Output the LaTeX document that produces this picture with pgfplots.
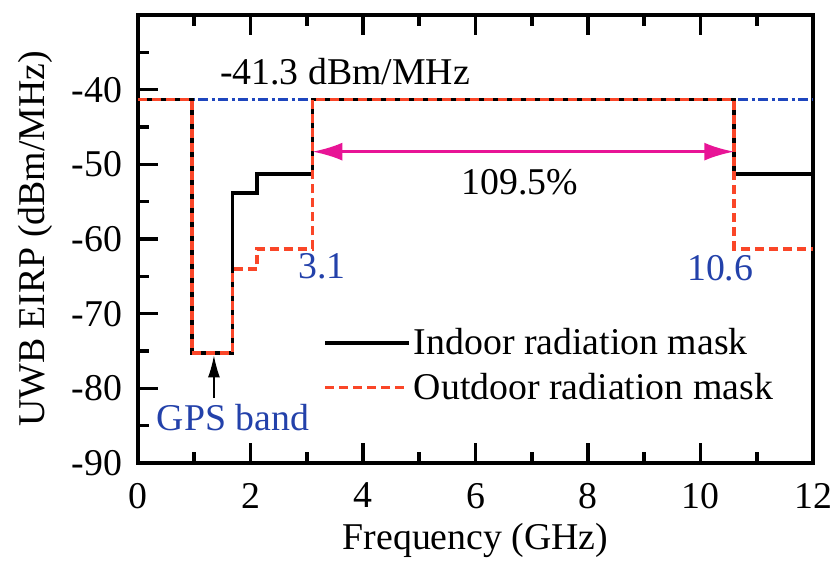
\documentclass[border=0pt]{standalone}
\usepackage{fontspec}
\setmainfont{Liberation Serif}
\usepackage{pgfplots}
\pgfplotsset{compat=1.18}
\usetikzlibrary{arrows.meta}
\definecolor{maskred}{RGB}{250,70,40}
\definecolor{limblue}{RGB}{30,70,190}
\definecolor{arrmag}{RGB}{232,20,150}
\definecolor{txtblue}{RGB}{35,65,170}

\begin{document}
\begin{tikzpicture}[font=\fontsize{18.9}{22}\selectfont]
\begin{axis}[
  at={(0,0)}, anchor=south west,
  scale only axis, width=337.5pt, height=224pt,
  xmin=0, xmax=12, ymin=-90, ymax=-30,
  xtick={0,2,...,12}, ytick={-90,-80,...,-40},
  minor xtick={1,3,...,11}, minor ytick={-85,-75,...,-35},
  tick align=inside, xtick pos=both, xticklabel pos=bottom, ytick pos=left,
  major tick length=10pt, minor tick length=5.5pt,
  every tick/.style={black, line width=1.8pt},
  axis line style={line width=1.8pt},
  /pgf/number format/assume math mode=true,
  xticklabel style={yshift=-6.5pt},
  yticklabel style={xshift=-4.5pt},
  xlabel={Frequency (GHz)}, ylabel={UWB EIRP (dBm/MHz)},
  xlabel style={at={(axis description cs:0.5,-0.172)}, anchor=center},
  ylabel style={at={(axis description cs:-0.1526,0.5)}, anchor=center},
  legend image code/.code={\draw[#1] (0pt,0pt) -- (42pt,0pt);},
  legend cell align=left,
  legend style={draw=none, fill=none, at={(0.265,0.218)}, anchor=west,
    row sep=4.5pt, nodes={inner sep=1.5pt}},
]
\addplot[const plot, limblue, line width=1.8pt, dash pattern=on 5pt off 1.75pt on 1.5pt off 1.75pt, forget plot]
  coordinates {(0,-41.3) (12,-41.3)};
\addplot[const plot, black, line width=1.8pt]
  coordinates {(0,-41.3) (0.96,-75.3) (1.68,-53.8) (2.12,-51.3) (3.1,-41.3) (10.6,-51.3) (12,-51.3)};
\addlegendentry{Indoor radiation mask}
\addplot[const plot, maskred, line width=1.8pt, dash pattern=on 4.5pt off 2.5pt]
  coordinates {(0,-41.3) (0.96,-75.3) (1.68,-64.0) (2.12,-61.3) (3.1,-41.3) (10.6,-61.3) (12,-61.3)};
\addlegendentry{Outdoor radiation mask}
\draw[arrmag, line width=1.4pt, {Latex[length=15pt,width=9pt]}-{Latex[length=15pt,width=9pt]}]
  (axis cs:3.1,-48.3) -- (axis cs:10.6,-48.3);
\draw[black, line width=0.6pt, -{Latex[length=11pt,width=6pt]}]
  (axis cs:1.35,-81.3) -- (axis cs:1.35,-75.6);
\node at (axis cs:3.68,-37.6) {-41.3 dBm/MHz};
\node at (axis cs:6.79,-52.4) {109.5\%};
\node[txtblue] at (axis cs:3.27,-63.7) {3.1};
\node[txtblue] at (axis cs:10.35,-63.9) {10.6};
\node[txtblue] at (axis cs:1.69,-83.9) {GPS band};
\end{axis}
\pgfresetboundingbox
\path[use as bounding box] (-69pt,-50pt) rectangle (347.5pt,231.5pt);
\end{tikzpicture}
\end{document}
